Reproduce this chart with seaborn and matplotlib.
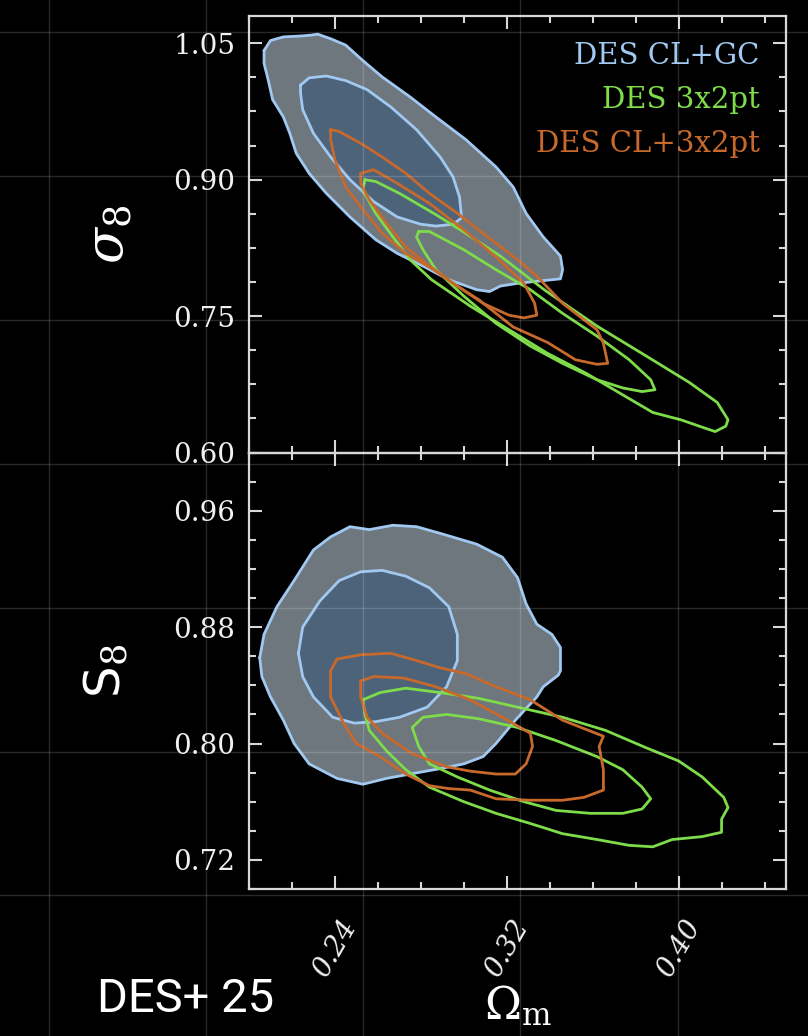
import numpy as np
import pandas as pd
import matplotlib.pyplot as plt
import seaborn as sns
from matplotlib.ticker import MultipleLocator, AutoMinorLocator

# contour outlines, (Omega_m, sigma_8)
sig8_clgc_95 = [(0.207, 1.042), (0.210, 1.053), (0.216, 1.057), (0.224, 1.058), (0.229, 1.059),
                (0.232, 1.060), (0.238, 1.055), (0.245, 1.048), (0.253, 1.031), (0.262, 1.013),
                (0.275, 0.991), (0.287, 0.969), (0.301, 0.944), (0.315, 0.914), (0.323, 0.892),
                (0.329, 0.863), (0.337, 0.837), (0.345, 0.816), (0.346, 0.801), (0.345, 0.791),
                (0.337, 0.789), (0.325, 0.786), (0.317, 0.783), (0.312, 0.777), (0.306, 0.779),
                (0.293, 0.790), (0.281, 0.805), (0.269, 0.819), (0.259, 0.834), (0.247, 0.859),
                (0.236, 0.885), (0.228, 0.907), (0.222, 0.929), (0.219, 0.951), (0.216, 0.969),
                (0.211, 0.988), (0.209, 1.009), (0.207, 1.028)]
sig8_clgc_68 = [(0.224, 1.004), (0.228, 1.012), (0.236, 1.014), (0.245, 1.009), (0.255, 0.999),
                (0.266, 0.980), (0.278, 0.955), (0.289, 0.925), (0.295, 0.903), (0.298, 0.881),
                (0.299, 0.858), (0.295, 0.851), (0.287, 0.849), (0.280, 0.851), (0.269, 0.859),
                (0.258, 0.876), (0.247, 0.900), (0.238, 0.925), (0.230, 0.951), (0.225, 0.977),
                (0.224, 0.995)]
sig8_3x2_95 = [(0.254, 0.900), (0.259, 0.898), (0.270, 0.885), (0.286, 0.863), (0.301, 0.841),
               (0.317, 0.816), (0.338, 0.778), (0.362, 0.739), (0.385, 0.706), (0.405, 0.677),
               (0.418, 0.655), (0.423, 0.636), (0.422, 0.629), (0.417, 0.623), (0.412, 0.627),
               (0.401, 0.636), (0.388, 0.644), (0.375, 0.662), (0.357, 0.687), (0.339, 0.709),
               (0.321, 0.735), (0.303, 0.761), (0.285, 0.790), (0.275, 0.812), (0.267, 0.837),
               (0.259, 0.863), (0.253, 0.889)]
sig8_3x2_68 = [(0.279, 0.843), (0.284, 0.843), (0.300, 0.823), (0.315, 0.801), (0.331, 0.779),
               (0.346, 0.753), (0.362, 0.728), (0.377, 0.702), (0.387, 0.680), (0.389, 0.669),
               (0.383, 0.667), (0.374, 0.671), (0.362, 0.680), (0.346, 0.698), (0.331, 0.717),
               (0.315, 0.742), (0.300, 0.772), (0.287, 0.801), (0.281, 0.823), (0.278, 0.837)]
sig8_cl3x2_95 = [(0.238, 0.955), (0.242, 0.953), (0.252, 0.940), (0.262, 0.925), (0.273, 0.907),
                 (0.284, 0.885), (0.297, 0.863), (0.309, 0.841), (0.325, 0.812), (0.334, 0.794),
                 (0.346, 0.764), (0.362, 0.735), (0.365, 0.720), (0.367, 0.698), (0.362, 0.697),
                 (0.352, 0.702), (0.339, 0.721), (0.323, 0.738), (0.307, 0.768), (0.295, 0.786),
                 (0.286, 0.801), (0.273, 0.819), (0.262, 0.841), (0.253, 0.867), (0.245, 0.892),
                 (0.240, 0.922), (0.238, 0.944)]
sig8_cl3x2_68 = [(0.252, 0.907), (0.258, 0.911), (0.269, 0.896), (0.284, 0.874), (0.300, 0.845),
                 (0.315, 0.815), (0.328, 0.786), (0.333, 0.764), (0.334, 0.751), (0.328, 0.748),
                 (0.321, 0.751), (0.309, 0.764), (0.297, 0.783), (0.284, 0.805), (0.273, 0.826),
                 (0.264, 0.852), (0.256, 0.878), (0.252, 0.896)]

# (Omega_m, S_8)
s8_clgc_95 = [(0.205, 0.859), (0.207, 0.875), (0.213, 0.894), (0.221, 0.912), (0.230, 0.933),
              (0.238, 0.942), (0.247, 0.949), (0.256, 0.947), (0.267, 0.950), (0.278, 0.949),
              (0.290, 0.944), (0.306, 0.937), (0.318, 0.928), (0.325, 0.914), (0.329, 0.896),
              (0.334, 0.882), (0.341, 0.875), (0.345, 0.866), (0.345, 0.850), (0.344, 0.847),
              (0.337, 0.839), (0.334, 0.832), (0.324, 0.816), (0.315, 0.800), (0.309, 0.791),
              (0.300, 0.786), (0.290, 0.783), (0.275, 0.779), (0.264, 0.776), (0.253, 0.772),
              (0.241, 0.776), (0.228, 0.786), (0.221, 0.800), (0.216, 0.816), (0.210, 0.832),
              (0.206, 0.846)]
s8_clgc_68 = [(0.223, 0.862), (0.225, 0.880), (0.233, 0.898), (0.242, 0.912), (0.252, 0.918),
              (0.262, 0.919), (0.273, 0.915), (0.284, 0.907), (0.293, 0.894), (0.297, 0.875),
              (0.297, 0.857), (0.292, 0.839), (0.283, 0.825), (0.270, 0.818), (0.259, 0.815),
              (0.249, 0.814), (0.239, 0.818), (0.230, 0.832), (0.225, 0.846)]
s8_3x2_95 = [(0.253, 0.830), (0.261, 0.835), (0.273, 0.838), (0.289, 0.835), (0.307, 0.831),
             (0.325, 0.825), (0.346, 0.818), (0.366, 0.809), (0.385, 0.797), (0.400, 0.788),
             (0.411, 0.777), (0.421, 0.763), (0.423, 0.756), (0.420, 0.748), (0.420, 0.739),
             (0.411, 0.736), (0.397, 0.734), (0.388, 0.729), (0.377, 0.730), (0.362, 0.734),
             (0.346, 0.738), (0.331, 0.745), (0.315, 0.752), (0.300, 0.760), (0.284, 0.770),
             (0.273, 0.782), (0.264, 0.795), (0.256, 0.809), (0.254, 0.820)]
s8_3x2_68 = [(0.276, 0.811), (0.281, 0.818), (0.292, 0.820), (0.307, 0.817), (0.325, 0.811),
             (0.343, 0.802), (0.362, 0.791), (0.374, 0.782), (0.383, 0.770), (0.387, 0.762),
             (0.383, 0.755), (0.374, 0.752), (0.359, 0.752), (0.343, 0.754), (0.328, 0.760),
             (0.312, 0.768), (0.297, 0.777), (0.284, 0.786), (0.279, 0.798)]
s8_cl3x2_95 = [(0.241, 0.858), (0.252, 0.861), (0.266, 0.862), (0.278, 0.857), (0.289, 0.852),
               (0.301, 0.848), (0.315, 0.839), (0.331, 0.830), (0.346, 0.816), (0.365, 0.805),
               (0.363, 0.798), (0.365, 0.782), (0.365, 0.768), (0.356, 0.763), (0.346, 0.761),
               (0.331, 0.761), (0.315, 0.762), (0.303, 0.768), (0.293, 0.769), (0.284, 0.771),
               (0.273, 0.779), (0.261, 0.791), (0.250, 0.800), (0.244, 0.814), (0.238, 0.832),
               (0.238, 0.850)]
s8_cl3x2_68 = [(0.252, 0.843), (0.258, 0.846), (0.272, 0.845), (0.287, 0.839), (0.303, 0.830),
               (0.318, 0.818), (0.331, 0.807), (0.332, 0.798), (0.329, 0.786), (0.324, 0.779),
               (0.315, 0.779), (0.303, 0.781), (0.292, 0.784), (0.276, 0.793), (0.262, 0.807),
               (0.255, 0.818), (0.252, 0.832)]

labels = ["DES CL+GC", "DES 3x2pt", "DES CL+3x2pt"]
colors = ["#a0c8f0", "#7edc4a", "#c8692c"]
fill_95 = "#6e767e"
fill_68 = "#4d6379"

sns.set_theme(style="ticks")
plt.rcParams["font.family"] = ["DejaVu Serif"]
plt.rcParams["mathtext.fontset"] = "dejavuserif"
fg = "#d8d8d8"


def closed(pts):
    return pd.DataFrame(pts + pts[:1], columns=["om", "val"])


def draw(ax, clgc, others, with_labels):
    for pts, fc in zip(clgc, [fill_95, fill_68]):
        df = closed(pts)
        ax.fill(df.om, df.val, color=fc, lw=0, zorder=1)
    sets = [clgc] + others
    for i, (pair, col) in enumerate(zip(sets, colors)):
        for j, pts in enumerate(pair):
            lab = labels[i] if (with_labels and j == 0) else None
            sns.lineplot(data=closed(pts), x="om", y="val", sort=False, estimator=None,
                         color=col, lw=2.0, ax=ax, label=lab, zorder=2 + i)


fig, (ax1, ax2) = plt.subplots(2, 1, figsize=(8.08, 10.36), dpi=100, sharex=True)
fig.patch.set_facecolor("black")
fig.subplots_adjust(left=249 / 808, right=786 / 808, top=1 - 16 / 1036, bottom=1 - 889 / 1036, hspace=0)

draw(ax1, [sig8_clgc_95, sig8_clgc_68], [[sig8_3x2_95, sig8_3x2_68], [sig8_cl3x2_95, sig8_cl3x2_68]], True)
draw(ax2, [s8_clgc_95, s8_clgc_68], [[s8_3x2_95, s8_3x2_68], [s8_cl3x2_95, s8_cl3x2_68]], False)

ax1.set_ylim(0.60, 1.08)
ax2.set_ylim(0.70, 1.00)
ax2.set_xlim(0.20, 0.45)
ax1.yaxis.set_major_locator(MultipleLocator(0.15))
ax2.yaxis.set_major_locator(MultipleLocator(0.08))
ax2.xaxis.set_major_locator(MultipleLocator(0.08))
for ax in (ax1, ax2):
    ax.set_facecolor("none")
    ax.xaxis.set_minor_locator(AutoMinorLocator(4))
    ax.yaxis.set_minor_locator(AutoMinorLocator(4))
    ax.tick_params(which="both", direction="in", top=True, right=True, colors=fg,
                   labelcolor="#f0f0f0", labelsize=20, width=1.5)
    ax.tick_params(which="major", length=9.5, pad=10)
    ax.tick_params(which="minor", length=5)
    for s in ax.spines.values():
        s.set_color(fg)
        s.set_linewidth(1.6)
    ax.set_xlabel("")
    ax.set_ylabel("")
ax1.yaxis.set_major_formatter(plt.FormatStrFormatter("%.2f"))
ax2.yaxis.set_major_formatter(plt.FormatStrFormatter("%.2f"))
ax2.xaxis.set_major_formatter(plt.FormatStrFormatter("%.2f"))
ax1.tick_params(axis="x", labelbottom=False)
ax2.tick_params(axis="x", pad=19)
for t in ax2.get_xticklabels():
    t.set_rotation(60)
    t.set_fontstyle("italic")

ax1.set_ylabel(r"$\sigma_8$", fontsize=38, color="white")
ax2.set_ylabel(r"$\mathsf{S}_8$", fontsize=36, color="white")
ax1.yaxis.set_label_coords(-0.214, 0.5)
ax2.yaxis.set_label_coords(-0.218, 0.5)
ax2.set_xlabel(r"$\Omega_{\rm m}$", fontsize=32, color="white")
ax2.xaxis.set_label_coords(0.5, -0.215)

leg = ax1.legend(loc="upper right", frameon=False, handlelength=0, handletextpad=0,
                 markerfirst=False, labelcolor="linecolor", fontsize=21,
                 labelspacing=0.55, borderaxespad=0.5)
for h in leg.legend_handles:
    h.set_visible(False)

fig.text(97 / 808, 1 - 1012 / 1036, "DES+ 25", fontsize=34, color="white",
         family=["Roboto", "DejaVu Sans"], va="baseline")

# faint grid laid over the whole figure
grid = fig.add_axes([0, 0, 1, 1], zorder=10)
grid.set_facecolor("none")
grid.set_xlim(0, 808)
grid.set_ylim(1036, 0)
grid.set_xticks([49, 206, 363, 520, 678])
grid.set_yticks([32, 176, 320, 464, 608, 752, 895])
grid.grid(True, color="white", alpha=0.16, lw=1.0)
grid.tick_params(length=0, labelbottom=False, labelleft=False)
for s in grid.spines.values():
    s.set_visible(False)

fig.savefig("out.png", dpi=100, facecolor="black")
